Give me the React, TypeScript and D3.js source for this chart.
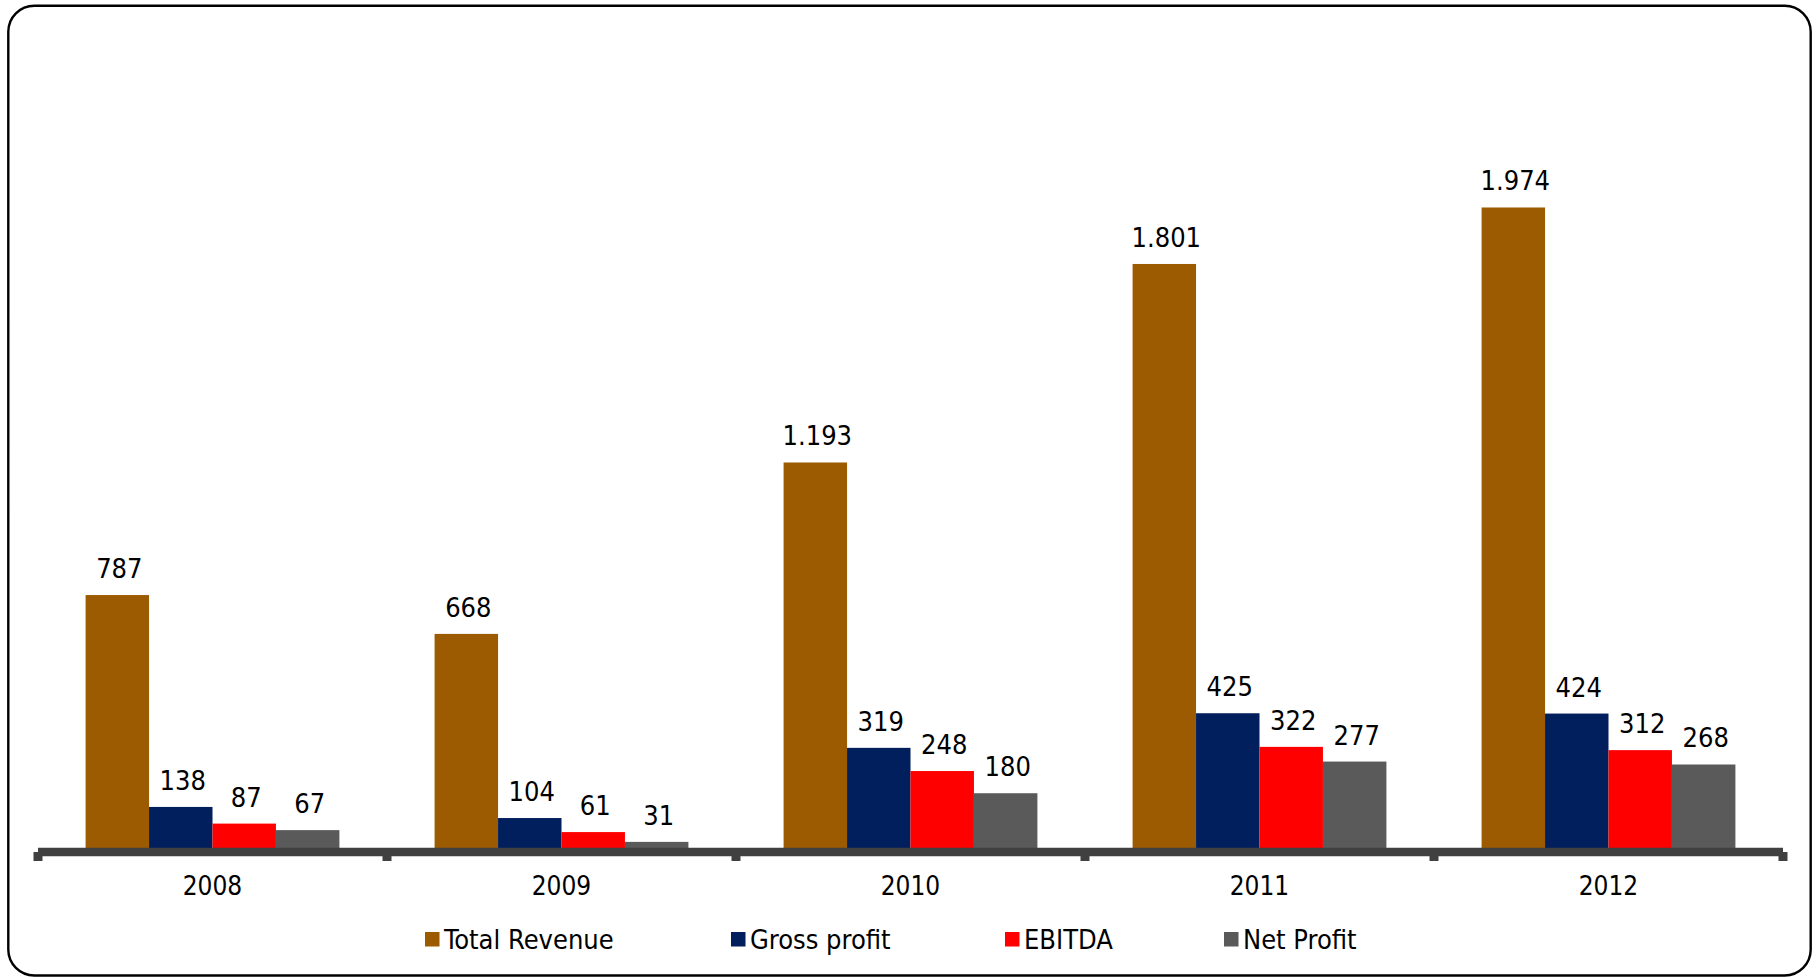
import { useEffect, useRef } from 'react';
import * as d3 from 'd3';

const years = ['2008', '2009', '2010', '2011', '2012'];
const seriesNames = ['Total Revenue', 'Gross profit', 'EBITDA', 'Net Profit'];
const totalRevenue = [787, 668, 1193, 1801, 1974];
const grossProfit = [138, 104, 319, 425, 424];
const ebitda = [87, 61, 248, 322, 312];
const netProfit = [67, 31, 180, 277, 268];
const seriesColors = ['#9C5B00', '#001F5C', '#FF0000', '#5A5A5A'];

const W = 1818;
const H = 977;
const FONT = '"Liberation Sans Narrow", "DejaVu Sans Condensed", sans-serif';

// legend slot positions (left edge of each swatch)
const legendX = [425, 731, 1005, 1224];

const fmt = d3.formatLocale({ decimal: ',', thousands: '.', grouping: [3], currency: ['', ''] }).format(',d');

export default function App() {
  const svgRef = useRef<SVGSVGElement>(null);

  useEffect(() => {
    document.body.style.margin = '0';
    if (!svgRef.current) return;
    const svg = d3.select(svgRef.current);
    svg.selectAll('*').remove();

    const values = [totalRevenue, grossProfit, ebitda, netProfit];
    const rows = years.map((year, i) => ({
      year,
      items: seriesNames.map((name, s) => ({ name, s, value: values[s][i] })),
    }));

    // frame
    svg.append('rect')
      .attr('x', 8.3).attr('y', 5.8)
      .attr('width', 1802.4).attr('height', 969.7)
      .attr('rx', 26).attr('ry', 26)
      .attr('fill', 'white')
      .attr('stroke', '#000')
      .attr('stroke-width', 2.4);

    const x0 = d3.scaleBand<string>().domain(years).range([38, 1783]).padding(0);
    const x1 = d3.scaleBand<string>().domain(seriesNames).range([0, x0.bandwidth()])
      .paddingInner(0).paddingOuter(0.75);
    const y = d3.scaleLinear().domain([0, 2000]).range([852, 199]);

    const groups = svg.append('g')
      .selectAll('g')
      .data(rows)
      .join('g')
      .attr('transform', d => `translate(${x0(d.year)},0)`);

    groups.selectAll('rect')
      .data(d => d.items)
      .join('rect')
      .attr('x', d => x1(d.name)!)
      .attr('y', d => y(d.value))
      .attr('width', x1.bandwidth())
      .attr('height', d => y(0) - y(d.value))
      .attr('fill', d => seriesColors[d.s]);

    groups.selectAll('text')
      .data(d => d.items)
      .join('text')
      .attr('x', d => x1(d.name)! + x1.bandwidth() / 2 + 2)
      .attr('y', d => y(d.value) - 17)
      .attr('text-anchor', 'middle')
      .attr('font-family', FONT)
      .attr('font-size', 27)
      .attr('fill', '#000')
      .text(d => fmt(d.value));

    // x axis
    const axis = svg.append('g');
    axis.append('line')
      .attr('x1', x0.range()[0]).attr('x2', x0.range()[1])
      .attr('y1', y(0)).attr('y2', y(0))
      .attr('stroke', '#404040').attr('stroke-width', 8.5);
    const bounds = [...years.map(d => x0(d)!), x0.range()[1]];
    axis.selectAll('line.tick')
      .data(bounds)
      .join('line')
      .attr('class', 'tick')
      .attr('x1', d => d).attr('x2', d => d)
      .attr('y1', y(0)).attr('y2', y(0) + 9)
      .attr('stroke', '#404040').attr('stroke-width', 9);
    axis.selectAll('text')
      .data(years)
      .join('text')
      .attr('x', d => x0(d)! + x0.bandwidth() / 2)
      .attr('y', 895)
      .attr('text-anchor', 'middle')
      .attr('font-family', FONT)
      .attr('font-size', 26)
      .attr('fill', '#000')
      .text(d => d);

    // legend
    const legend = svg.append('g')
      .selectAll('g')
      .data(seriesNames)
      .join('g')
      .attr('transform', (_d, i) => `translate(${legendX[i]},0)`);
    legend.append('rect')
      .attr('x', 0).attr('y', 932)
      .attr('width', 14.5).attr('height', 14.5)
      .attr('fill', (_d, i) => seriesColors[i]);
    legend.append('text')
      .attr('x', 19)
      .attr('y', 949)
      .attr('font-family', FONT)
      .attr('font-size', 27)
      .attr('fill', '#000')
      .text(d => d);
  }, []);

  return <svg ref={svgRef} width={W} height={H} style={{ display: 'block' }} />;
}
